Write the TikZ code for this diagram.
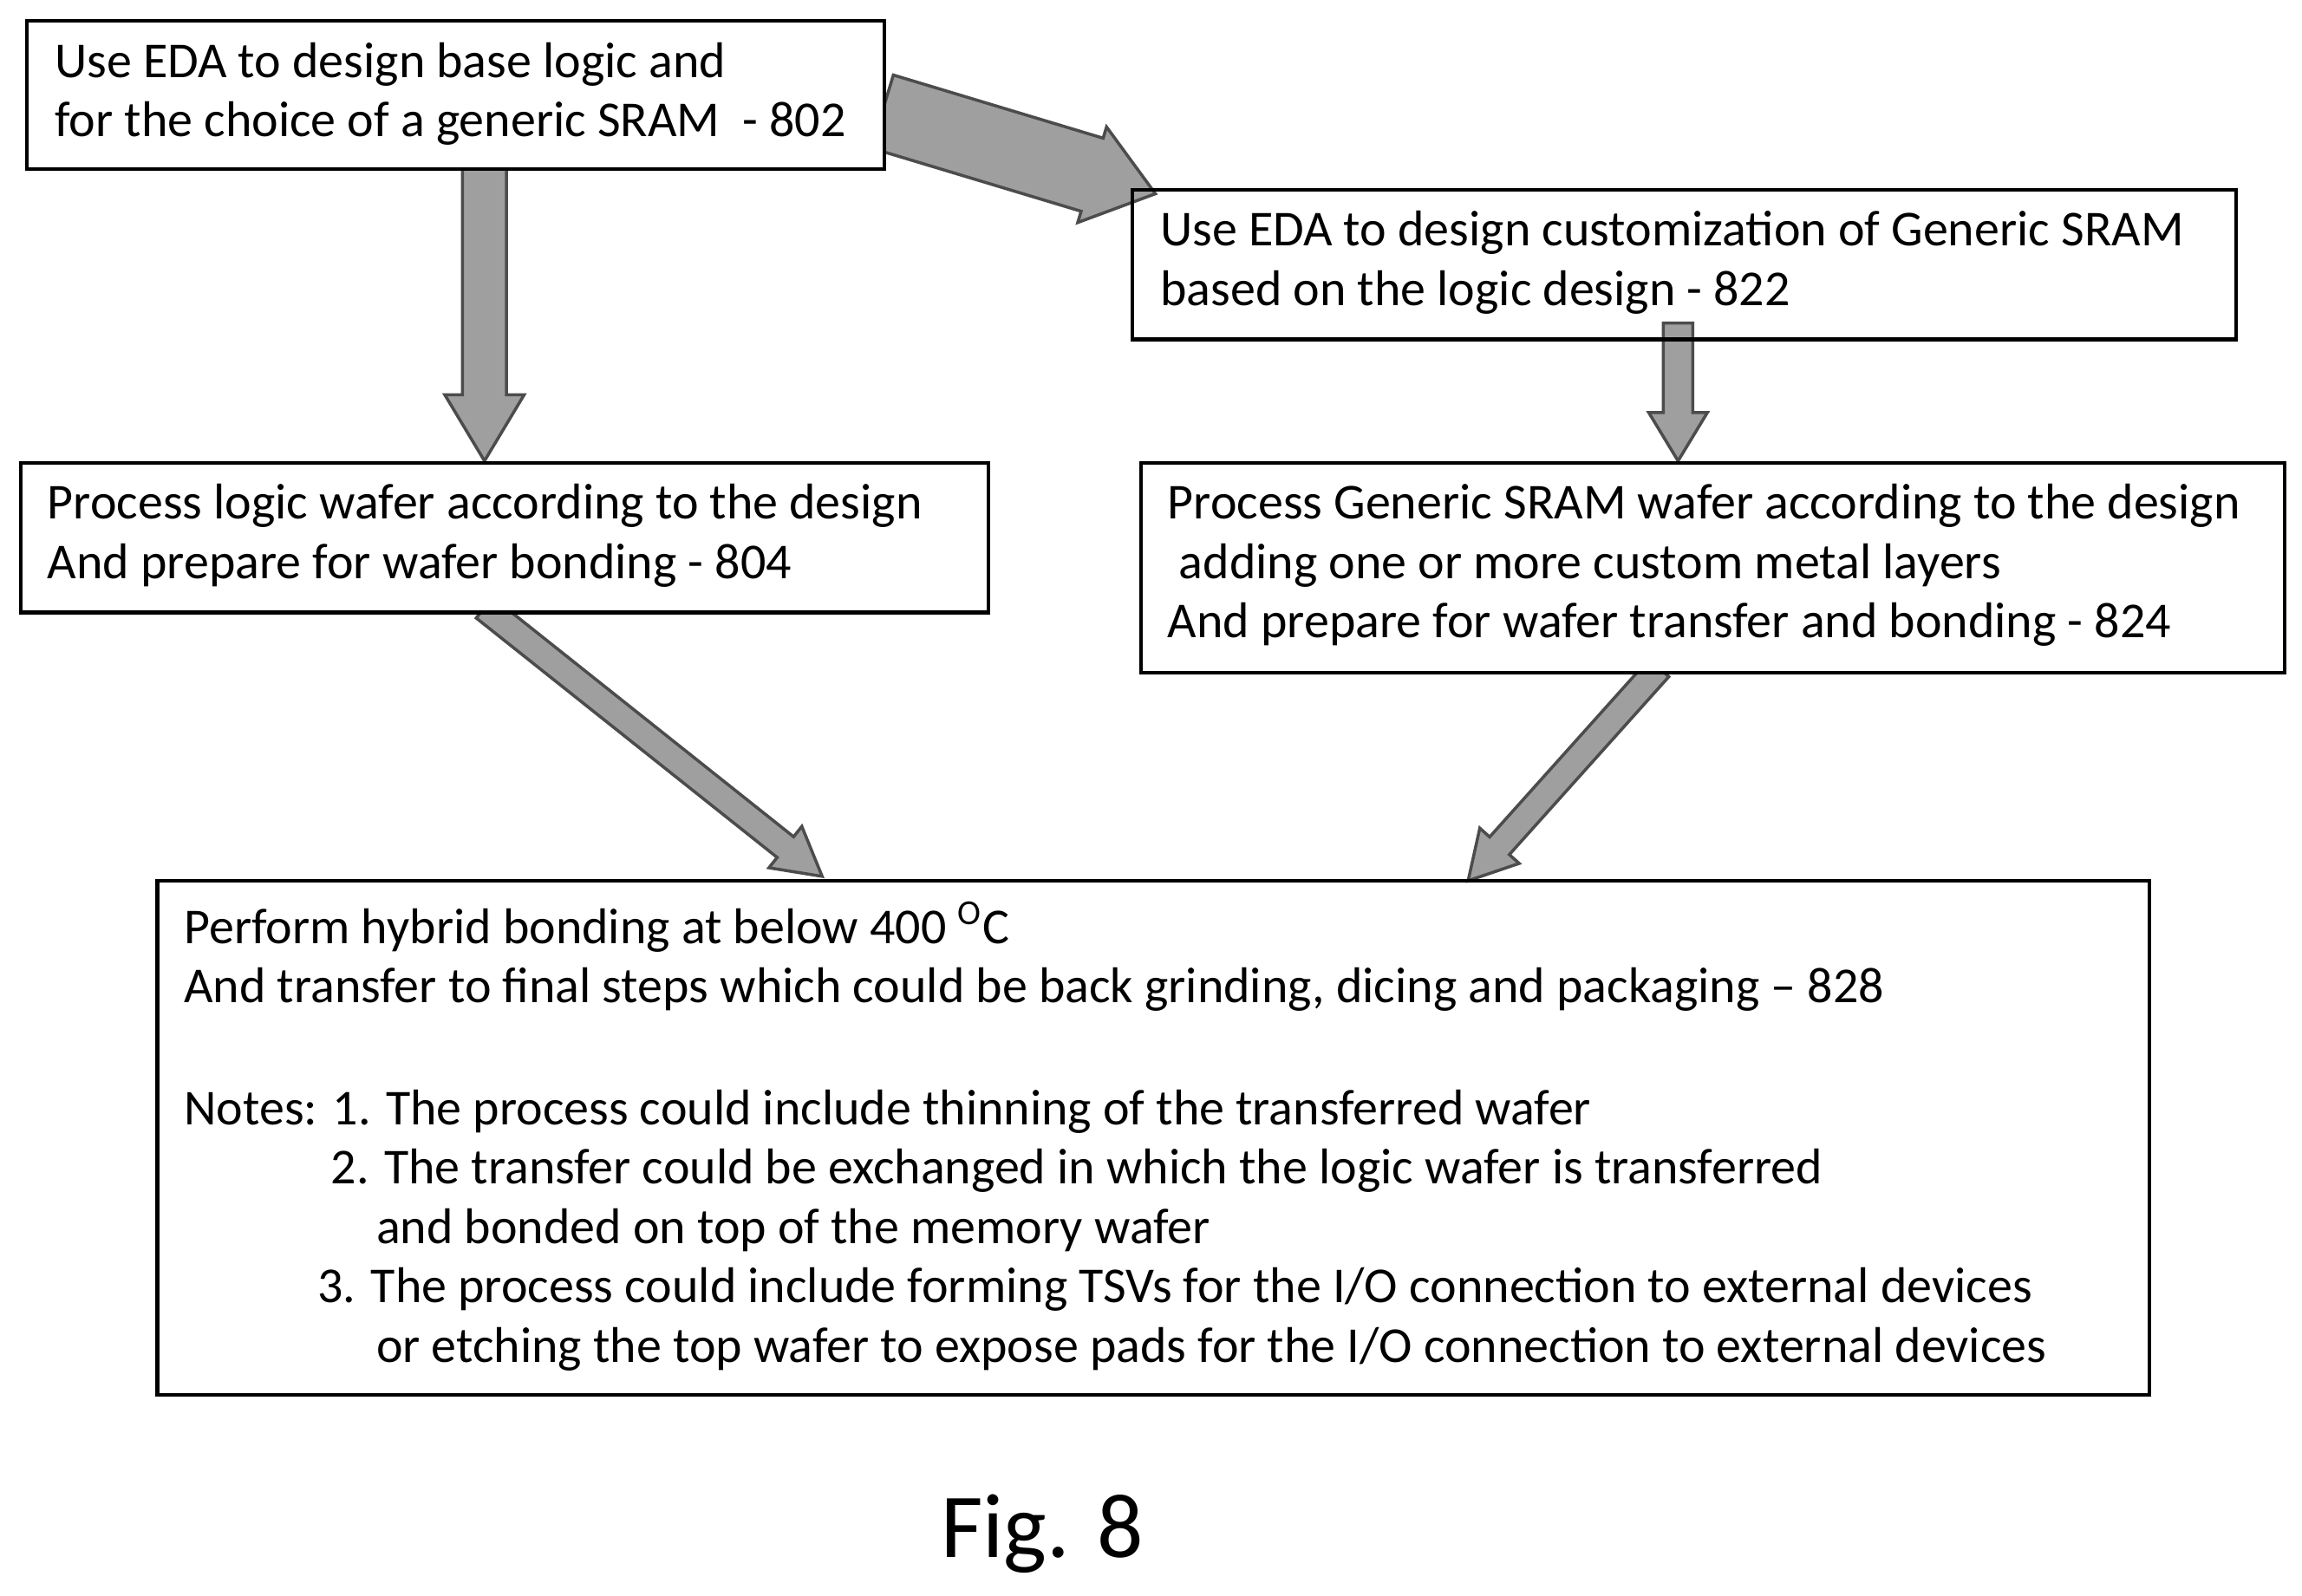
\documentclass[tikz,border=0pt]{standalone}
\usepackage{fontspec}
\setmainfont{Carlito}
\usetikzlibrary{calc}
\newcommand{\px}{0.01693cm}
\tikzset{
  box/.style={draw, line width=1.2pt, anchor=north west, inner sep=0pt},
  txt/.style={anchor=west, align=left, font=\fontsize{16.5}{19.5}\selectfont, inner sep=0pt},
  fat/.style={draw=black!70, fill=gray!75, line width=1pt, line join=miter}
}
% fat grey arrow: from, to, shaft half width, head half width, head length
\newcommand{\fatarrow}[5]{%
  \coordinate (h) at ($(#2)!#5*\px!(#1)$);
  \draw[fat] ($(#1)!#3*\px!90:(#2)$) -- ($(h)!#3*\px!-90:(#1)$) -- ($(h)!#4*\px!-90:(#1)$)
    -- (#2) -- ($(h)!#4*\px!90:(#1)$) -- ($(h)!#3*\px!90:(#1)$) -- ($(#1)!#3*\px!-90:(#2)$) -- cycle;}
\begin{document}
\begin{tikzpicture}[x=\px, y=-\px]
  \useasboundingbox (0,0) rectangle (1568,1087);

  \coordinate (a1) at (330,114);  \coordinate (a2) at (330,314);
  \coordinate (c1) at (601,76);   \coordinate (c2) at (787,132);
  \coordinate (d1) at (1143,220); \coordinate (d2) at (1143,314);
  \coordinate (e1) at (330,414);  \coordinate (e2) at (560,597);
  \coordinate (f1) at (1130,455); \coordinate (f2) at (1000,600);

  \fatarrow{a1}{a2}{15}{27}{45}
  \fatarrow{c1}{c2}{26}{34}{45}
  \fatarrow{d1}{d2}{10}{20}{33}
  \fatarrow{e1}{e2}{9}{18}{32}
  \fatarrow{f1}{f2}{9}{18}{32}

  \node[box, fill=white, minimum width=584*\px, minimum height=101*\px] (b802) at (17,13) {};
  \node[box, minimum width=752*\px, minimum height=102*\px] (b822) at (770,128) {};
  \node[box, fill=white, minimum width=659*\px, minimum height=102*\px] (b804) at (13,314) {};
  \node[box, fill=white, minimum width=779*\px, minimum height=143*\px] (b824) at (776,314) {};
  \node[box, minimum width=1357*\px, minimum height=350*\px] (b828) at (106,599) {};

  \node[txt] (t802) at (37,64) {Use EDA to design base logic and\\for the choice of a generic SRAM\ \ - 802};
  \node[txt] (t822) at (790,179) {Use EDA to design customization of Generic SRAM\\based on the logic design - 822};
  \node[txt] (t804) at (32,365) {Process logic wafer according to the design\\And prepare for wafer bonding - 804};
  \node[txt] (t824) at (795,385) {Process Generic SRAM wafer according to the design\\\ adding one or more custom metal layers\\And prepare for wafer transfer and bonding - 824};
  \node[txt] (t828) at (125,774) {Perform hybrid bonding at below 400 \textsuperscript{O}C\\
    And transfer to final steps which could be back grinding, dicing and packaging -- 828\\[20.5pt]
    Notes: 1. The process could include thinning of the transferred wafer\\
    \hspace{1.693cm}2. The transfer could be exchanged in which the logic wafer is transferred\\
    \hspace{2.218cm}and bonded on top of the memory wafer\\
    \hspace{1.541cm}3. The process could include forming TSVs for the I/O connection to external devices\\
    \hspace{2.218cm}or etching the top wafer to expose pads for the I/O connection to external devices};

  \node[font=\fontsize{30}{36}\selectfont] (fig) at (710,1045) {Fig. 8};
\end{tikzpicture}
\end{document}
